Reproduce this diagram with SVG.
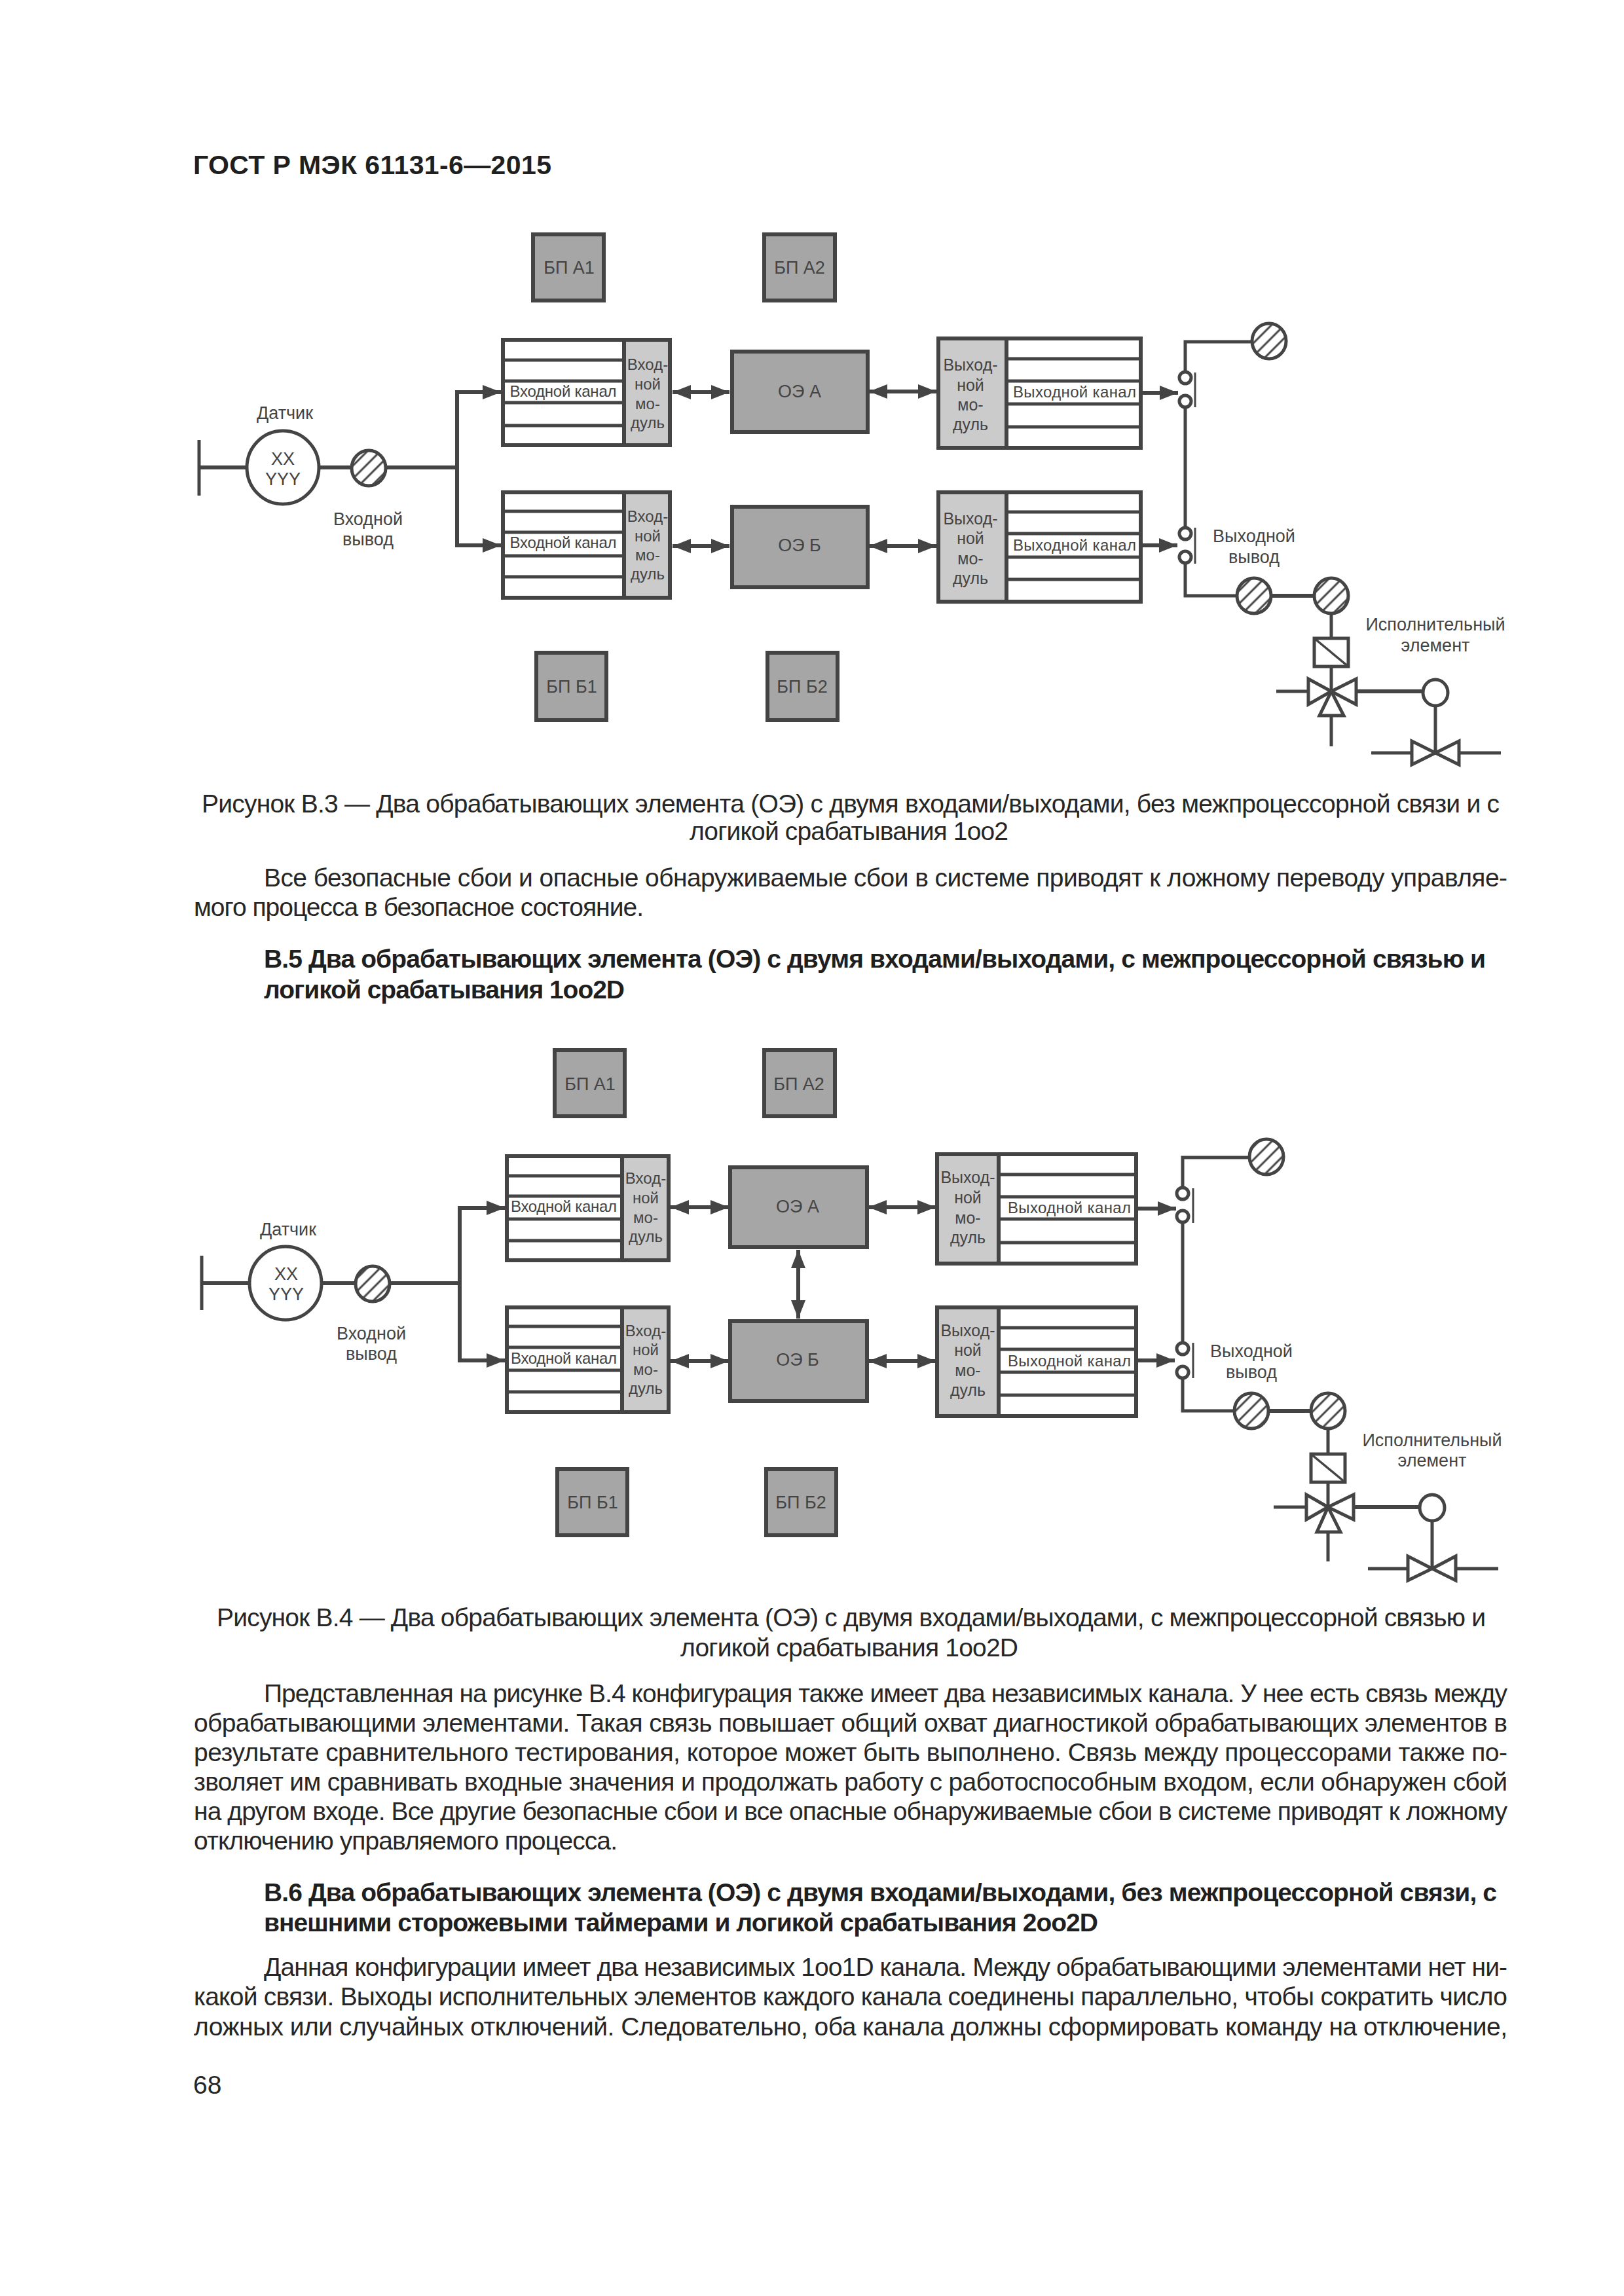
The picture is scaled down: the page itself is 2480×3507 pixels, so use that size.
<svg xmlns="http://www.w3.org/2000/svg" width="2480" height="3507" viewBox="0 0 2480 3507">
<style>
text{font-family:"Liberation Sans",Arial,sans-serif}
.b{font-size:39px;fill:#262626}
.h{font-size:39px;font-weight:bold;fill:#1f1f1f}
.d{font-size:27px;fill:#444;text-anchor:middle}
.c{font-size:24px;fill:#444;text-anchor:middle}
.m{font-size:24px;fill:#444;text-anchor:middle}
.o{font-size:25px;fill:#444;text-anchor:middle}
.dark{fill:#a6a6a6;stroke:#444;stroke-width:6}
.mod{fill:#cbcbcb;stroke:#444;stroke-width:6}
.wh{fill:#fff;stroke:#444;stroke-width:6}
.rl{stroke:#444;stroke-width:5;fill:none}
.ln{stroke:#444;stroke-width:5;fill:none}
.thin{stroke:#444;stroke-width:3;fill:none}
.dg{stroke:#444;stroke-width:3.5;fill:none}
.lt{stroke:#444;stroke-width:6;fill:none}
.ar{stroke:#444;stroke-width:6;fill:none;marker-end:url(#ah)}
.da{stroke:#444;stroke-width:6;fill:none;marker-start:url(#ahs);marker-end:url(#ah)}
.sy{fill:#fff;stroke:#444;stroke-width:5}
.ht{fill:url(#hatch);stroke:#444;stroke-width:5}
</style>
<defs>
<pattern id="hatch" width="14" height="14" patternUnits="userSpaceOnUse" patternTransform="rotate(45)">
<rect width="14" height="14" fill="#fff"/><line x1="2" y1="0" x2="2" y2="14" stroke="#444" stroke-width="3"/>
</pattern>
<marker id="ah" markerUnits="userSpaceOnUse" markerWidth="28" markerHeight="22" refX="28" refY="11" orient="auto"><path d="M0 0L28 11L0 22Z" fill="#444"/></marker>
<marker id="ahs" markerUnits="userSpaceOnUse" markerWidth="28" markerHeight="22" refX="0" refY="11" orient="auto"><path d="M28 0L0 11L28 22Z" fill="#444"/></marker>
</defs>
<rect width="2480" height="3507" fill="#fff"/>

<g id="page-text">
<text class="h" x="295" y="266" style="font-size:41px" textLength="547" lengthAdjust="spacing">ГОСТ Р МЭК 61131-6—2015</text>
<text class="b" x="308" y="1241" textLength="1982" lengthAdjust="spacing">Рисунок В.3 — Два обрабатывающих элемента (ОЭ) с двумя входами/выходами, без межпроцессорной связи и с</text>
<text class="b" x="1053" y="1283" textLength="487" lengthAdjust="spacing">логикой срабатывания 1оо2</text>
<text class="b" x="403" y="1354" textLength="1899" lengthAdjust="spacing">Все безопасные сбои и опасные обнаруживаемые сбои в системе приводят к ложному переводу управляе-</text>
<text class="b" x="296" y="1399" textLength="687" lengthAdjust="spacing">мого процесса в безопасное состояние.</text>
<text class="h" x="403" y="1478" textLength="1866" lengthAdjust="spacing">В.5 Два обрабатывающих элемента (ОЭ) с двумя входами/выходами, с межпроцессорной связью и</text>
<text class="h" x="403" y="1525" textLength="551" lengthAdjust="spacing">логикой срабатывания 1оо2D</text>
<text class="b" x="331" y="2484" textLength="1938" lengthAdjust="spacing">Рисунок В.4 — Два обрабатывающих элемента (ОЭ) с двумя входами/выходами, с межпроцессорной связью и</text>
<text class="b" x="1039" y="2530" textLength="516" lengthAdjust="spacing">логикой срабатывания 1оо2D</text>
<text class="b" x="403" y="2600" textLength="1899" lengthAdjust="spacing">Представленная на рисунке В.4 конфигурация также имеет два независимых канала. У нее есть связь между</text>
<text class="b" x="296" y="2645" textLength="2006" lengthAdjust="spacing">обрабатывающими элементами. Такая связь повышает общий охват диагностикой обрабатывающих элементов в</text>
<text class="b" x="296" y="2690" textLength="2006" lengthAdjust="spacing">результате сравнительного тестирования, которое может быть выполнено. Связь между процессорами также по-</text>
<text class="b" x="296" y="2735" textLength="2006" lengthAdjust="spacing">зволяет им сравнивать входные значения и продолжать работу с работоспособным входом, если обнаружен сбой</text>
<text class="b" x="296" y="2780" textLength="2006" lengthAdjust="spacing">на другом входе. Все другие безопасные сбои и все опасные обнаруживаемые сбои в системе приводят к ложному</text>
<text class="b" x="296" y="2825" textLength="647" lengthAdjust="spacing">отключению управляемого процесса.</text>
<text class="h" x="403" y="2904" textLength="1883" lengthAdjust="spacing">В.6 Два обрабатывающих элемента (ОЭ) с двумя входами/выходами, без межпроцессорной связи, с</text>
<text class="h" x="403" y="2950" textLength="1274" lengthAdjust="spacing">внешними сторожевыми таймерами и логикой срабатывания 2оо2D</text>
<text class="b" x="403" y="3018" textLength="1899" lengthAdjust="spacing">Данная конфигурации имеет два независимых 1оо1D канала. Между обрабатывающими элементами нет ни-</text>
<text class="b" x="296" y="3063" textLength="2006" lengthAdjust="spacing">какой связи. Выходы исполнительных элементов каждого канала соединены параллельно, чтобы сократить число</text>
<text class="b" x="296" y="3109" textLength="2006" lengthAdjust="spacing">ложных или случайных отключений. Следовательно, оба канала должны сформировать команду на отключение,</text>
<text class="b" x="295" y="3198">68</text>
</g>

<g id="f3-connectors">
<path class="lt" d="M304 714H377"/><path class="lt" d="M488 714H537"/><path class="lt" d="M590 714H698"/>
<path class="ar" d="M698 714V599H765"/><path class="ar" d="M698 714V833H765"/>
<path class="da" d="M1027 599H1114"/><path class="da" d="M1027 834H1114"/>
<path class="da" d="M1327 598H1430"/><path class="da" d="M1327 834H1430"/>
<path class="ar" d="M1745 600H1799"/><path class="ar" d="M1745 833H1798"/>
<path class="ln" d="M1810 568V522H1911"/><path class="ln" d="M1810 622V806"/><path class="ln" d="M1810 860V910H1889"/>
<path class="lt" d="M1941 910H2007"/><path class="ln" d="M2033 937V973"/><path class="ln" d="M2033 1019V1056"/>
<path class="ln" d="M1949 1056H1998"/><path class="lt" d="M2071 1056H2173"/><path class="ln" d="M2033 1093V1140"/>
<path class="ln" d="M2192 1078V1150"/><path class="ln" d="M2094 1150H2156"/><path class="ln" d="M2228 1150H2292"/>
</g>

<g id="f3-sensor-tick"><line class="ln" x1="304" y1="672" x2="304" y2="757"/></g>
<g id="f3-sensor"><ellipse class="sy" cx="432" cy="714" rx="55" ry="56"/><text class="d" x="435" y="640">Датчик</text><text class="d" x="432" y="710">XX</text><text class="d" x="432" y="741">YYY</text></g>
<g id="f3-input-pin"><ellipse class="ht" cx="563" cy="715" rx="26" ry="27"/><text class="d" x="562" y="802">Входной</text><text class="d" x="562" y="833">вывод</text></g>
<g id="f3-ps-a1"><rect class="dark" x="814" y="358" width="108" height="101"/><text class="d" x="869" y="418">БП А1</text></g>
<g id="f3-ps-a2"><rect class="dark" x="1167" y="358" width="108" height="101"/><text class="d" x="1221" y="418">БП А2</text></g>
<g id="f3-ps-b1"><rect class="dark" x="819" y="997" width="107" height="103"/><text class="d" x="873" y="1058">БП Б1</text></g>
<g id="f3-ps-b2"><rect class="dark" x="1172" y="997" width="107" height="103"/><text class="d" x="1225" y="1058">БП Б2</text></g>
<g id="f3-in-a"><rect class="wh" x="768" y="519" width="255" height="161"/><rect class="mod" x="953" y="519" width="70" height="161"/><path class="rl" d="M768 550H953M768 582H953M768 615H953M768 650H953"/><text class="c" x="860" y="606" textLength="163" lengthAdjust="spacing">Входной канал</text><text class="m" x="989" y="565">Вход-</text><text class="m" x="989" y="595">ной</text><text class="m" x="989" y="625">мо-</text><text class="m" x="989" y="654">дуль</text></g>
<g id="f3-in-b"><rect class="wh" x="768" y="752" width="255" height="161"/><rect class="mod" x="953" y="752" width="70" height="161"/><path class="rl" d="M768 781H953M768 813H953M768 849H953M768 881H953"/><text class="c" x="860" y="837" textLength="163" lengthAdjust="spacing">Входной канал</text><text class="m" x="989" y="797">Вход-</text><text class="m" x="989" y="827">ной</text><text class="m" x="989" y="856">мо-</text><text class="m" x="989" y="885">дуль</text></g>
<g id="f3-ce-a"><rect class="dark" x="1118" y="537" width="207" height="123"/><text class="d" x="1221" y="607">ОЭ А</text></g>
<g id="f3-ce-b"><rect class="dark" x="1118" y="774" width="207" height="123"/><text class="d" x="1221" y="842">ОЭ Б</text></g>
<g id="f3-out-a"><rect class="wh" x="1433" y="517" width="309" height="167"/><rect class="mod" x="1433" y="517" width="104" height="167"/><path class="rl" d="M1537 548H1742M1537 582H1742M1537 617H1742M1537 652H1742"/><text class="c" x="1641" y="607" textLength="188" lengthAdjust="spacing">Выходной канал</text><text class="o" x="1482" y="566">Выход-</text><text class="o" x="1482" y="597">ной</text><text class="o" x="1482" y="627">мо-</text><text class="o" x="1482" y="657">дуль</text></g>
<g id="f3-out-b"><rect class="wh" x="1433" y="752" width="309" height="167"/><rect class="mod" x="1433" y="752" width="104" height="167"/><path class="rl" d="M1537 782H1742M1537 815H1742M1537 851H1742M1537 885H1742"/><text class="c" x="1641" y="841" textLength="188" lengthAdjust="spacing">Выходной канал</text><text class="o" x="1482" y="801">Выход-</text><text class="o" x="1482" y="831">ной</text><text class="o" x="1482" y="862">мо-</text><text class="o" x="1482" y="892">дуль</text></g>
<g id="f3-contact-a"><circle class="sy" cx="1810" cy="577" r="9"/><circle class="sy" cx="1810" cy="613" r="9"/><line class="thin" x1="1825" y1="569" x2="1825" y2="622"/></g>
<g id="f3-contact-b"><circle class="sy" cx="1810" cy="815" r="9"/><circle class="sy" cx="1810" cy="851" r="9"/><line class="thin" x1="1825" y1="806" x2="1825" y2="861"/><text class="d" x="1915" y="828">Выходной</text><text class="d" x="1915" y="860">вывод</text></g>
<g id="f3-pin-1"><ellipse class="ht" cx="1938" cy="521" rx="26" ry="27"/></g>
<g id="f3-pin-2"><ellipse class="ht" cx="1915" cy="910" rx="26" ry="27"/></g>
<g id="f3-pin-3"><ellipse class="ht" cx="2033" cy="910" rx="26" ry="27"/></g>
<g id="f3-actuator"><rect class="sy" x="2007" y="975" width="52" height="43"/><line class="dg" x1="2007" y1="975" x2="2059" y2="1018"/><text class="d" x="2192" y="963">Исполнительный</text><text class="d" x="2192" y="995">элемент</text><path class="sy" d="M2033 1056L1998 1037V1076ZM2033 1056L2071 1037V1076ZM2033 1056L2015 1093H2052Z"/></g>
<g id="f3-solenoid"><ellipse class="sy" cx="2192" cy="1058" rx="19" ry="20"/></g>
<g id="f3-valve"><path class="sy" d="M2192 1150L2156 1132V1168ZM2192 1150L2228 1132V1168Z"/></g>

<g id="f4-connectors">
<path class="lt" d="M308 1960H381"/><path class="lt" d="M491 1960H543"/><path class="lt" d="M595 1960H702"/>
<path class="ar" d="M702 1960V1845H771"/><path class="ar" d="M702 1960V2078H771"/>
<path class="da" d="M1024 1844H1113"/><path class="da" d="M1024 2079H1113"/>
<path class="da" d="M1219 1909V2014"/>
<path class="da" d="M1326 1844H1429"/><path class="da" d="M1326 2079H1429"/>
<path class="ar" d="M1738 1846H1796"/><path class="ar" d="M1738 2078H1794"/>
<path class="ln" d="M1806 1814V1768H1908"/><path class="ln" d="M1806 1868V2051"/><path class="ln" d="M1806 2105V2155H1885"/>
<path class="lt" d="M1937 2155H2002"/><path class="ln" d="M2028 2182V2220"/><path class="ln" d="M2028 2265V2302"/>
<path class="ln" d="M1945 2302H1995"/><path class="lt" d="M2067 2302H2168"/><path class="ln" d="M2028 2340V2385"/>
<path class="ln" d="M2187 2323V2396"/><path class="ln" d="M2089 2396H2150"/><path class="ln" d="M2223 2396H2288"/>
</g>

<g id="f4-sensor-tick"><line class="ln" x1="308" y1="1918" x2="308" y2="2001"/></g>
<g id="f4-sensor"><ellipse class="sy" cx="436" cy="1960" rx="55" ry="56"/><text class="d" x="440" y="1887">Датчик</text><text class="d" x="437" y="1955">XX</text><text class="d" x="437" y="1986">YYY</text></g>
<g id="f4-input-pin"><ellipse class="ht" cx="569" cy="1961" rx="26" ry="27"/><text class="d" x="567" y="2046">Входной</text><text class="d" x="567" y="2077">вывод</text></g>
<g id="f4-ps-a1"><rect class="dark" x="847" y="1604" width="107" height="101"/><text class="d" x="901" y="1665">БП А1</text></g>
<g id="f4-ps-a2"><rect class="dark" x="1167" y="1604" width="108" height="101"/><text class="d" x="1220" y="1665">БП А2</text></g>
<g id="f4-ps-b1"><rect class="dark" x="851" y="2244" width="107" height="101"/><text class="d" x="905" y="2304">БП Б1</text></g>
<g id="f4-ps-b2"><rect class="dark" x="1170" y="2244" width="107" height="101"/><text class="d" x="1223" y="2304">БП Б2</text></g>
<g id="f4-in-a"><rect class="wh" x="774" y="1766" width="247" height="159"/><rect class="mod" x="950" y="1766" width="71" height="159"/><path class="rl" d="M774 1796H950M774 1827H950M774 1862H950M774 1895H950"/><text class="c" x="861" y="1851" textLength="162" lengthAdjust="spacing">Входной канал</text><text class="m" x="986" y="1808">Вход-</text><text class="m" x="986" y="1838">ной</text><text class="m" x="986" y="1868">мо-</text><text class="m" x="986" y="1897">дуль</text></g>
<g id="f4-in-b"><rect class="wh" x="774" y="1997" width="247" height="160"/><rect class="mod" x="950" y="1997" width="71" height="160"/><path class="rl" d="M774 2026H950M774 2058H950M774 2093H950M774 2126H950"/><text class="c" x="861" y="2083" textLength="162" lengthAdjust="spacing">Входной канал</text><text class="m" x="986" y="2041">Вход-</text><text class="m" x="986" y="2070">ной</text><text class="m" x="986" y="2100">мо-</text><text class="m" x="986" y="2129">дуль</text></g>
<g id="f4-ce-a"><rect class="dark" x="1115" y="1783" width="209" height="122"/><text class="d" x="1218" y="1852">ОЭ А</text></g>
<g id="f4-ce-b"><rect class="dark" x="1115" y="2018" width="209" height="122"/><text class="d" x="1218" y="2086">ОЭ Б</text></g>
<g id="f4-out-a"><rect class="wh" x="1431" y="1763" width="304" height="167"/><rect class="mod" x="1431" y="1763" width="94" height="167"/><path class="rl" d="M1525 1794H1735M1525 1828H1735M1525 1862H1735M1525 1898H1735"/><text class="c" x="1633" y="1853" textLength="188" lengthAdjust="spacing">Выходной канал</text><text class="o" x="1478" y="1807">Выход-</text><text class="o" x="1478" y="1838">ной</text><text class="o" x="1478" y="1869">мо-</text><text class="o" x="1478" y="1899">дуль</text></g>
<g id="f4-out-b"><rect class="wh" x="1431" y="1997" width="304" height="166"/><rect class="mod" x="1431" y="1997" width="94" height="166"/><path class="rl" d="M1525 2028H1735M1525 2061H1735M1525 2096H1735M1525 2131H1735"/><text class="c" x="1633" y="2087" textLength="188" lengthAdjust="spacing">Выходной канал</text><text class="o" x="1478" y="2041">Выход-</text><text class="o" x="1478" y="2071">ной</text><text class="o" x="1478" y="2102">мо-</text><text class="o" x="1478" y="2132">дуль</text></g>
<g id="f4-contact-a"><circle class="sy" cx="1806" cy="1823" r="9"/><circle class="sy" cx="1806" cy="1858" r="9"/><line class="thin" x1="1822" y1="1815" x2="1822" y2="1868"/></g>
<g id="f4-contact-b"><circle class="sy" cx="1806" cy="2060" r="9"/><circle class="sy" cx="1806" cy="2096" r="9"/><line class="thin" x1="1822" y1="2051" x2="1822" y2="2105"/><text class="d" x="1911" y="2073">Выходной</text><text class="d" x="1911" y="2105">вывод</text></g>
<g id="f4-pin-1"><ellipse class="ht" cx="1934" cy="1767" rx="26" ry="27"/></g>
<g id="f4-pin-2"><ellipse class="ht" cx="1911" cy="2155" rx="26" ry="27"/></g>
<g id="f4-pin-3"><ellipse class="ht" cx="2028" cy="2155" rx="26" ry="27"/></g>
<g id="f4-actuator"><rect class="sy" x="2002" y="2221" width="52" height="43"/><line class="dg" x1="2002" y1="2221" x2="2054" y2="2264"/><text class="d" x="2187" y="2209">Исполнительный</text><text class="d" x="2187" y="2240">элемент</text><path class="sy" d="M2028 2302L1995 2283V2321ZM2028 2302L2067 2283V2321ZM2028 2302L2011 2340H2047Z"/></g>
<g id="f4-solenoid"><ellipse class="sy" cx="2187" cy="2303" rx="19" ry="20"/></g>
<g id="f4-valve"><path class="sy" d="M2187 2396L2150 2377V2414ZM2187 2396L2223 2377V2414Z"/></g>
</svg>
